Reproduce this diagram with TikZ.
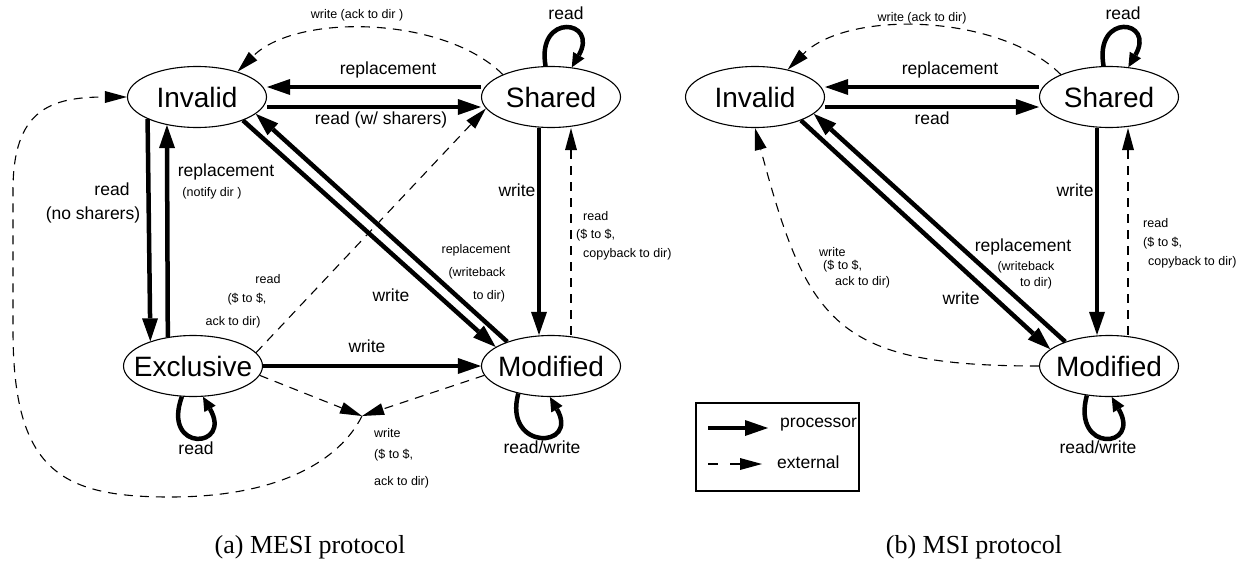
\documentclass[tikz,border=0pt]{standalone}
\usepackage{fontspec}
\setmainfont{Liberation Serif}
\setsansfont{Liberation Sans}
\usepackage{tikz}
\usetikzlibrary{arrows.meta,shapes.geometric}

\begin{document}
\begin{tikzpicture}[x=1pt,y=1pt,
    state/.style={draw,ellipse,line width=1.1pt,minimum width=139pt,minimum height=61pt,inner sep=0pt,font=\sffamily\fontsize{28}{30}\selectfont},
    proc/.style={line width=4.5pt,-{Triangle[length=23pt,width=16pt,line width=0pt]}},
    loopy/.style={line width=4.5pt,-{Triangle[length=14pt,width=13pt,line width=0pt]}},
    ext/.style={line width=1.1pt,dash pattern=on 9pt off 7pt,-{Triangle[length=22pt,width=12pt,line width=0pt]}},
    lbl/.style={font=\sffamily\fontsize{17.5}{19}\selectfont,inner sep=0pt},
    sm/.style={font=\sffamily\fontsize{12.5}{14}\selectfont,inner sep=0pt}]
  \useasboundingbox (0,0) rectangle (1246,-573);

  % ---- (a) MESI ----
  \node[state] (inv) at (197,-97)  {\makebox[0pt]{Invalid}};
  \node[state] (sh)  at (551,-97)  {\makebox[0pt]{Shared}};
  \node[state] (exc) at (193,-366) {\makebox[0pt]{Exclusive}};
  \node[state] (mod) at (551,-366) {\makebox[0pt]{Modified}};
  \coordinate (jct) at (362,-416);

  % processor transitions
  \draw[proc] ([yshift=10pt]sh.west) -- ([yshift=10pt]inv.east);
  \draw[proc] ([yshift=-10pt]inv.east) -- ([yshift=-10pt]sh.west);
  \draw[proc] (inv.-156) -- (exc.150);
  \draw[proc] (exc.131) -- (inv.-137);
  \draw[proc] (inv.-27) -- (mod.161);
  \draw[proc] (mod.151) -- (inv.-16);
  \draw[proc] (exc.east) -- (mod.west);
  \draw[proc] ([xshift=-12pt]sh.south) -- ([xshift=-12pt]mod.north);
  \draw[loopy] (sh.100) .. controls +(100:55) and +(60:55) .. (sh.55);
  \draw[loopy] (exc.-110) .. controls +(-110:60) and +(-60:60) .. (exc.-72);
  \draw[loopy] (mod.-140) .. controls +(-105:60) and +(-60:60) .. (mod.-92);

  % external transitions
  \draw[ext] ([xshift=20pt]mod.north) -- ([xshift=20pt]sh.south);
  \draw[ext] (exc.12) -- (sh.190);
  \draw[ext] (exc.-8) -- (jct);
  \draw[ext] (mod.188) -- (jct);
  \draw[ext] (jct) .. controls (340,-460) and (280,-497) .. (170,-497)
     .. controls (60,-497) and (13,-470) .. (13,-330) -- (13,-190)
     .. controls (13,-110) and (50,-97) .. (inv.west);
  \draw[ext] (sh.155) to[out=135,in=45,looseness=0.8] (inv.32);

  % labels
  \node[sm]  (wAckL)  at (357,-15)  {write (ack to dir )};
  \node[lbl] (repL)   at (388,-70)  {replacement};
  \node[lbl] (rdShL)  at (381,-120) {read (w/ sharers)};
  \node[lbl] (rdLpSL) at (566,-13)  {read};
  \node[lbl] (rdNoL)  at (112,-189) {read};
  \node[lbl] (noShL)  at (93,-215)  {(no sharers)};
  \node[lbl] (repEL)  at (226,-172) {replacement};
  \node[sm]  (notL)   at (212,-193) {(notify dir )};
  \node[lbl] (wSML)   at (517,-190) {write};
  \node[sm,anchor=west] (rdCbL) at (583,-216) {read};
  \node[sm,anchor=west] (ssCbL) at (576,-235) {(\$ to \$,};
  \node[sm,anchor=west] (cbL)   at (583,-254) {copyback to dir)};
  \node[sm]  (repWbL) at (476,-250) {replacement};
  \node[sm]  (wbL)    at (477,-273) {(writeback};
  \node[sm]  (toDirL) at (489,-296) {to dir)};
  \node[lbl] (wIML)   at (391,-295) {write};
  \node[lbl] (wEML)   at (367,-346) {write};
  \node[sm]  (rdESL)  at (268,-279) {read};
  \node[sm]  (ssESL)  at (247,-299) {(\$ to \$,};
  \node[sm]  (ackESL) at (233,-322) {ack to dir)};
  \node[lbl] (rdLpEL) at (196,-448) {read};
  \node[lbl] (rwLpML) at (542,-447) {read/write};
  \node[sm,anchor=west] (wJL)   at (374,-433) {write};
  \node[sm,anchor=west] (ssJL)  at (374,-455) {(\$ to \$,};
  \node[sm,anchor=west] (ackJL) at (374,-482) {ack to dir)};

  % ---- (b) MSI ----
  \node[state] (invR) at (755,-97)   {\makebox[0pt]{Invalid}};
  \node[state] (shR)  at (1109,-97)  {\makebox[0pt]{Shared}};
  \node[state] (modR) at (1109,-366) {\makebox[0pt]{Modified}};

  \draw[proc] ([yshift=10pt]shR.west) -- ([yshift=10pt]invR.east);
  \draw[proc] ([yshift=-10pt]invR.east) -- ([yshift=-10pt]shR.west);
  \draw[proc] (invR.-27) -- (modR.164);
  \draw[proc] (modR.151) -- (invR.-16);
  \draw[proc] ([xshift=-12pt]shR.south) -- ([xshift=-12pt]modR.north);
  \draw[loopy] (shR.100) .. controls +(100:55) and +(60:55) .. (shR.57);
  \draw[loopy] (modR.-127) .. controls +(-105:60) and +(-60:60) .. (modR.-85);

  \draw[ext] ([xshift=19pt]modR.north) -- ([xshift=19pt]shR.south);
  \draw[ext] (modR.west) to[out=180,in=-75,looseness=1.4] (invR.south);
  \draw[ext] (shR.155) to[out=135,in=45,looseness=0.8] (invR.40);

  \node[sm]  (wAckR)  at (922,-18)  {write (ack to dir)};
  \node[lbl] (repR)   at (950,-70)  {replacement};
  \node[lbl] (rdR)    at (932,-118) {read};
  \node[lbl] (rdLpSR) at (1123,-13) {read};
  \node[lbl] (wSMR)   at (1075,-190) {write};
  \node[sm,anchor=west] (rdCbR) at (1143,-223) {read};
  \node[sm,anchor=west] (ssCbR) at (1143,-243) {(\$ to \$,};
  \node[sm,anchor=west] (cbR)   at (1148,-262) {copyback to dir)};
  \node[lbl] (repWbR) at (1023,-247) {replacement};
  \node[sm]  (wbR)    at (1026,-267) {(writeback};
  \node[sm]  (toDirR) at (1036,-283) {to dir)};
  \node[lbl] (wIMR)   at (961,-298) {write};
  \node[sm,anchor=west] (wMIR)   at (819,-252) {write};
  \node[sm,anchor=west] (ssMIR)  at (823,-266) {(\$ to \$,};
  \node[sm,anchor=west] (ackMIR) at (835,-282) {ack to dir)};
  \node[lbl] (rwLpMR) at (1098,-447) {read/write};

  % legend
  \draw[line width=1.1pt] (696,-403) rectangle (859,-491);
  \coordinate (lgA) at (708,-428); \coordinate (lgB) at (768,-428);
  \coordinate (lgC) at (708,-464); \coordinate (lgD) at (762,-464);
  \draw[proc] (lgA) -- (lgB);
  \draw[ext,dash pattern=on 10pt off 12pt on 40pt] (lgC) -- (lgD);
  \node[lbl,anchor=west] (lgProc) at (780,-425) {processor};
  \node[lbl,anchor=west] (lgExt)  at (777,-462) {external};

  % captions
  \node[font=\fontsize{26}{28}\selectfont] (capA) at (310,-547) {(a) MESI protocol};
  \node[font=\fontsize{26}{28}\selectfont] (capB) at (974,-547) {(b) MSI protocol};
\end{tikzpicture}
\end{document}
